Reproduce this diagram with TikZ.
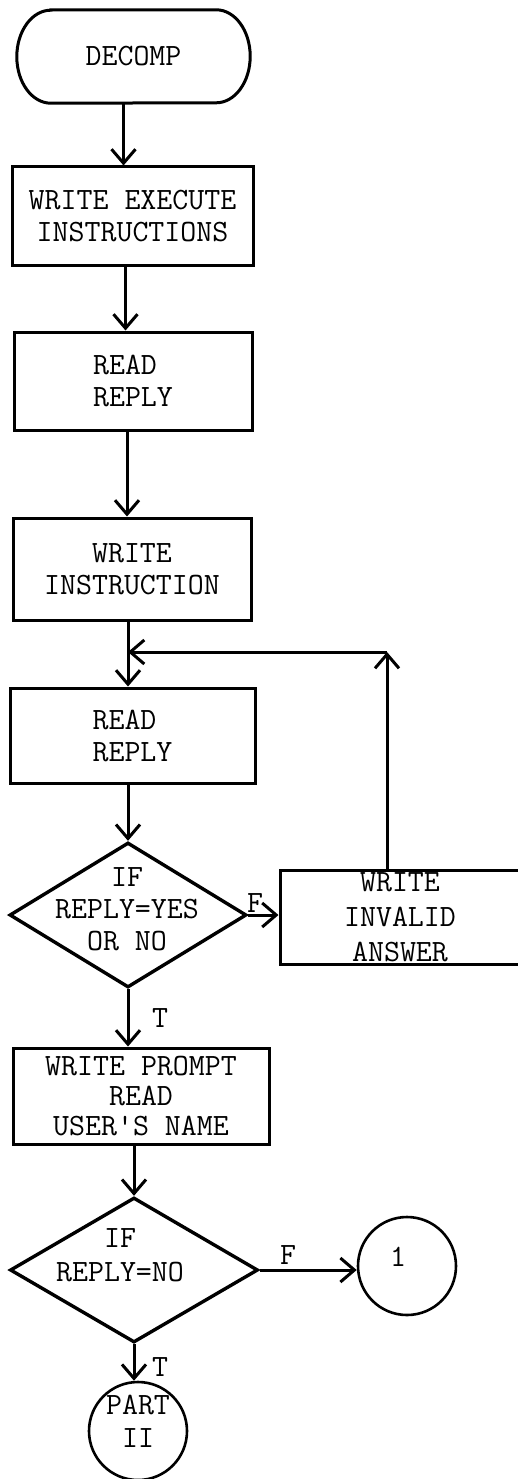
\documentclass[tikz,border=0pt]{standalone}
\usetikzlibrary{arrows.meta,shapes.geometric}
\begin{document}
\begin{tikzpicture}[x=1pt,y=-1pt,
  txt/.style={font=\fontsize{31}{32}\selectfont\ttfamily, inner sep=0pt, align=center},
  procbox/.style={txt, draw, rectangle, line width=3pt},
  decision/.style={draw, diamond, line width=3.4pt, inner sep=0pt},
  connector/.style={draw, circle, line width=2.6pt, inner sep=0pt, minimum size=98pt},
  flow/.style={line width=3pt, -{Straight Barb[length=14pt,width=24pt]}}
]
\useasboundingbox (0,0) rectangle (517,1479);

% start terminal
\node[txt, minimum width=233pt, minimum height=93pt] (decomp) at (133.5,56.5) {DECOMP};
\draw[line width=3pt]
  ([xshift=34pt]decomp.north west) -- ([xshift=-34pt]decomp.north east)
  arc[start angle=90, end angle=-90, x radius=34pt, y radius=46.5pt]
  -- ([xshift=34pt]decomp.south west)
  arc[start angle=270, end angle=90, x radius=34pt, y radius=46.5pt] -- cycle;

% process boxes
\node[procbox, minimum width=241pt, minimum height=98pt] (box1) at (132.5,216) {WRITE EXECUTE\\INSTRUCTIONS};
\node[procbox, align=left, minimum width=238pt, minimum height=98pt] (box2) at (133,381) {READ\\REPLY};
\node[procbox, minimum width=238pt, minimum height=102pt] (box3) at (132,569) {WRITE\\INSTRUCTION};
\node[procbox, align=left, minimum width=245pt, minimum height=95pt] (box4) at (132.5,735.5) {READ\\REPLY};

% first decision
\node[decision, minimum width=237pt, minimum height=145pt] (d1) at (128,915) {};
\node[txt] (d1q) at (127,909) {IF\\REPLY=YES\\OR NO};

% error message box (runs off the right edge)
\node[procbox, font=\fontsize{31}{35}\selectfont\ttfamily, minimum width=240pt, minimum height=94pt] (inv) at (400,917) {WRITE\\INVALID\\ANSWER};

\node[procbox, font=\fontsize{31}{30}\selectfont\ttfamily, minimum width=256pt, minimum height=96pt] (box5) at (141,1096) {WRITE PROMPT\\READ\\USER\textquotesingle S NAME};

% second decision
\node[decision, minimum width=248pt, minimum height=145pt] (d2) at (134,1270) {};
\node[txt, font=\fontsize{31}{34}\selectfont\ttfamily] (d2q) at (120,1255) {IF\\REPLY=NO};

% off-page connectors
\node[connector] (c1) at (407,1266) {};
\node[txt] (c1t) at (398,1257) {1};
\node[connector] (p2) at (138,1431) {};
\node[txt, font=\fontsize{31}{33}\selectfont\ttfamily] (p2t) at (138,1421) {PART\\II};

% branch labels
\node[txt] (lf1) at (255,903) {F};
\node[txt] (lt1) at (160,1018) {T};
\node[txt] (lf2) at (288,1255) {F};
\node[txt] (lt2) at (160,1367) {T};

% flow lines
\coordinate (merge) at (128,652);
\coordinate (corner) at (387,652);
\draw[flow] ([xshift=-10pt]decomp.south) -- ([xshift=-10pt]decomp.south |- box1.north);
\draw[flow] ([xshift=-7pt]box1.south) -- ([xshift=-7pt]box1.south |- box2.north);
\draw[flow] ([xshift=-6pt]box2.south) -- ([xshift=-6pt]box2.south |- box3.north);
\draw[flow] (box3.south -| merge) -- (box4.north -| merge);
\draw[flow] (box4.south -| d1.north) -- (d1.north);
\draw[flow] (d1.east) -- (d1.east -| inv.west);
\draw[flow] (corner |- inv.north) -- (corner);
\draw[flow] (corner) -- (merge);
\draw[flow] (d1.south) -- (d1.south |- box5.north);
\draw[flow] (d2.north |- box5.south) -- (d2.north);
\draw[flow] (d2.east) -- (d2.east -| c1.west);
\draw[flow] (d2.south) -- (d2.south |- p2.north);
\end{tikzpicture}
\end{document}
